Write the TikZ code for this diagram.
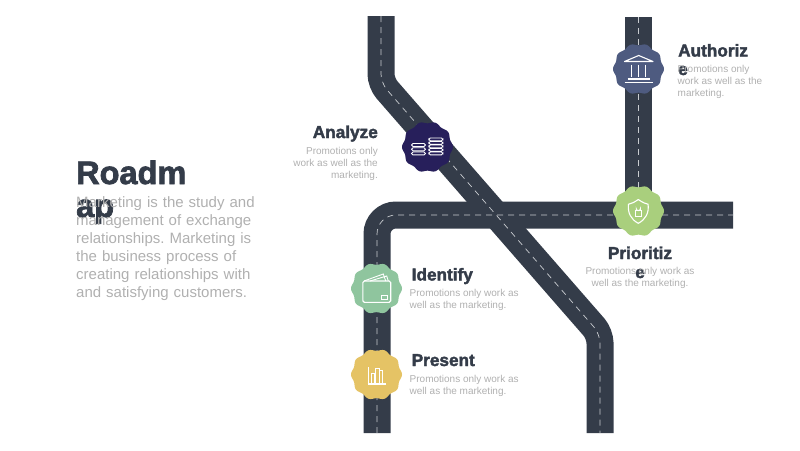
\documentclass[tikz,border=0pt]{standalone}
\usepackage{fontspec}
\setmainfont{Liberation Sans}
\newfontfamily\heavyfont[BoldFeatures={FakeBold=2.2}]{Liberation Sans}
\definecolor{roadcol}{HTML}{343C49}
\definecolor{dashcol}{HTML}{C9CCD0}
\definecolor{bodycol}{HTML}{B0B0B0}
\definecolor{authcol}{HTML}{4E5B80}
\definecolor{anlzcol}{HTML}{271F5B}
\definecolor{priocol}{HTML}{A9CF7D}
\definecolor{idencol}{HTML}{8FC59E}
\definecolor{prescol}{HTML}{E5C365}
\tikzset{%
    road/.style={line width=27pt,draw=roadcol},
    lane/.style={line width=0.7pt,draw=dashcol,dash pattern=on 6pt off 5pt},
    icon/.style={draw=white,line width=1.1pt},
    heading/.style={text=roadcol,inner sep=0pt,font=\heavyfont\bfseries\fontsize{17.2}{19}\selectfont,align=center},
    bighead/.style={heading,anchor=base west,font=\heavyfont\bfseries\fontsize{32.5}{33}\selectfont},
    blurb/.style={text=bodycol,inner sep=0pt,font=\frenchspacing\fontsize{10}{12}\selectfont},
    wavy/.pic={
        \fill[pic actions] plot[domain=0:358,samples=180] (\x:{24.6+0.9*cos(10*\x)}) -- cycle;
    }
}
\begin{document}
\begin{tikzpicture}[x=1pt,y=-1pt]
    \useasboundingbox (0,0) rectangle (800,450);

    % roads
    \draw[road,rounded corners=19pt] (377,433) -- (377,215) -- (733,215);
    \draw[road] (638.5,17) -- (638.5,215);
    \draw[road,rounded corners=9pt] (381,16) -- (381,83) -- (600,334) -- (600,433);
    \draw[lane,rounded corners=19pt] (377,433) -- (377,215) -- (733,215);
    \draw[lane] (638.5,17) -- (638.5,215);
    \draw[lane,rounded corners=9pt] (381,16) -- (381,83) -- (600,334) -- (600,433);

    % badges
    \pic[fill=authcol] at (638.5,69) {wavy};
    \pic[fill=anlzcol] at (427.5,147) {wavy};
    \pic[fill=priocol] at (638.5,211) {wavy};
    \pic[fill=idencol] at (376.5,288.5) {wavy};
    \pic[fill=prescol] at (376.5,374.5) {wavy};

    % bank
    \draw[icon,line join=round] (624.5,61.5) -- (638.7,55.5) -- (653,61.5) -- cycle;
    \foreach \c in {631.7,638.7,645.7} {
        \draw[icon] (\c,64.5) -- (\c,77);
    }
    \draw[icon] (627.5,79) -- (650,79);
    \draw[icon] (624.5,82.3) -- (653,82.3);

    % coins
    \foreach \r in {143.5,147.7,151.9} {
        \draw[icon,fill=anlzcol,rounded corners=1.5pt,line width=0.9pt] (411.5,\r) rectangle (425.5,\r+3);
    }
    \foreach \r in {138,141.5,145,148.5,152} {
        \draw[icon,fill=anlzcol,rounded corners=1.5pt,line width=0.9pt] (428.8,\r) rectangle (443,\r+2.8);
    }

    % shield
    \draw[icon,line join=round] (638.3,199.5) .. controls (634,202.5) and (631,203.8) .. (628.5,204.2)
        .. controls (627.5,213) and (631,219.5) .. (638.3,223.3)
        .. controls (645.6,219.5) and (649.1,213) .. (648.1,204.2)
        .. controls (645.6,203.8) and (642.6,202.5) .. (638.3,199.5);
    \draw[icon,line width=0.9pt] (635,210.3) rectangle (641.7,216);
    \draw[icon,line width=0.9pt] (636.2,210.3) -- (636.2,208.5) arc[start angle=180,end angle=0,radius=2.1] -- (640.4,210.3);

    % wallet
    \draw[icon,rounded corners=1.5pt] (362.8,281) rectangle (390.7,302.3);
    \draw[icon,line width=0.9pt] (364,281) -- (383.3,274) -- (385.7,281);
    \draw[icon,line width=0.9pt] (370,281) -- (386.7,276) -- (388.3,281);
    \draw[icon,line width=0.9pt] (381.2,295.3) rectangle (387.5,299);

    % chart
    \draw[icon] (367.5,384) -- (385.7,384);
    \draw[icon,line width=0.9pt] (368.5,384) -- (368.5,367);
    \draw[icon,line width=0.9pt] (371.5,384) -- (371.5,373) -- (374.5,373) -- (374.5,384);
    \draw[icon,line width=0.9pt] (375.5,384) -- (375.5,368.5) -- (379,368.5) -- (379,384);
    \draw[icon,line width=0.9pt] (379,370.5) -- (382,370.5) -- (382,384);

    % left column
    \node[bighead] (title) at (76,184) {Roadm};
    \node[bighead] (titleb) at (76,217) {ap};
    \node[blurb,anchor=north west,align=left,text width=190pt,font=\frenchspacing\fontsize{15}{18}\selectfont] (intro) at (76,196)
        {Marketing is the study and\\management of exchange\\relationships. Marketing is\\the business process of\\creating relationships with\\and satisfying customers.};

    % labels
    \node[heading,anchor=base east] (anlz) at (378,138) {Analyze};
    \node[blurb,anchor=north east,align=right] (anlztxt) at (378,147) {Promotions only\\work as well as the\\marketing.};

    \node[heading,anchor=base west] (auth) at (678,56.5) {Authoriz};
    \node[heading,anchor=base west] (authb) at (678,75) {e};
    \node[blurb,anchor=north west,align=left] (authtxt) at (677.5,65) {Promotions only\\work as well as the\\marketing.};

    \node[heading,anchor=base] (prio) at (640,259) {Prioritiz};
    \node[heading,anchor=base] (priob) at (640,278) {e};
    \node[blurb,anchor=north,align=center] (priotxt) at (640,267.5) {Promotions only work as\\well as the marketing.};

    \node[heading,anchor=base west] (iden) at (411.5,280.5) {Identify};
    \node[blurb,anchor=north west,align=left] (identxt) at (409.5,289.5) {Promotions only work as\\well as the marketing.};

    \node[heading,anchor=base west] (pres) at (411.5,366) {Present};
    \node[blurb,anchor=north west,align=left] (prestxt) at (409.5,375) {Promotions only work as\\well as the marketing.};
\end{tikzpicture}
\end{document}
